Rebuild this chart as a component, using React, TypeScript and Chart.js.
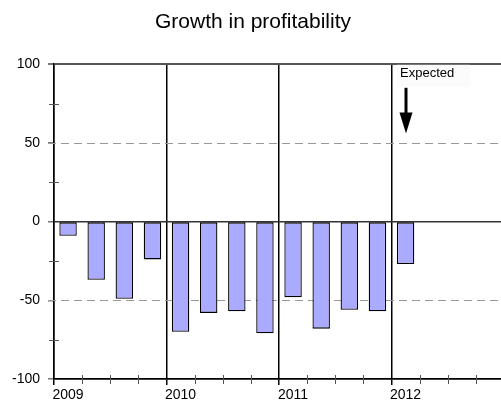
import React, { useEffect, useRef } from 'react';
import { Chart, registerables } from 'chart.js';

Chart.register(...registerables);

// ---- data ----
const quarterLabels = [
  '2009 Q1', '2009 Q2', '2009 Q3', '2009 Q4',
  '2010 Q1', '2010 Q2', '2010 Q3', '2010 Q4',
  '2011 Q1', '2011 Q2', '2011 Q3', '2011 Q4',
  '2012 Q1', '2012 Q2', '2012 Q3', '2012 Q4',
];
const growthValues = [-9, -37, -49, -24, -70, -58, -57, -71, -48, -68, -56, -57, -27];
const yMinorTicks = [75, 25, -25, -75];
const dashedLevels = [50, -50];
const titleText = 'Growth in profitability';
const annotationText = 'Expected';
const annotationQuarter = '2012 Q1';
const arrowFromValue = 85;
const arrowToValue = 56;
const annotationTextValue = 92;

const FONT = "'Liberation Sans', Arial, Helvetica, sans-serif";

const decorPlugin = {
  id: 'decor',
  beforeDatasetsDraw(chart: any) {
    const { ctx, chartArea, scales } = chart;
    const x = scales.x;
    const y = scales.y;
    ctx.save();
    // dashed reference lines
    ctx.strokeStyle = '#999999';
    ctx.lineWidth = 1;
    ctx.setLineDash([8, 5]);
    dashedLevels.forEach((v) => {
      const py = Math.round(y.getPixelForValue(v)) + 0.5;
      ctx.beginPath();
      ctx.moveTo(chartArea.left - 6, py);
      ctx.lineTo(chartArea.right, py);
      ctx.stroke();
    });
    ctx.setLineDash([]);
    // minor y ticks crossing the axis
    ctx.strokeStyle = '#555555';
    ctx.lineWidth = 1;
    yMinorTicks.forEach((v) => {
      const py = Math.round(y.getPixelForValue(v)) + 0.5;
      ctx.beginPath();
      ctx.moveTo(chartArea.left - 5, py);
      ctx.lineTo(chartArea.left + 5, py);
      ctx.stroke();
    });
    // quarter ticks crossing the x axis
    const step = x.getPixelForValue(1) - x.getPixelForValue(0);
    quarterLabels.forEach((_, i) => {
      if (i % 4 === 0) return;
      const px = Math.round(x.getPixelForValue(i) - step / 2) + 0.5;
      ctx.beginPath();
      ctx.moveTo(px, chartArea.bottom - 4);
      ctx.lineTo(px, chartArea.bottom + 5);
      ctx.stroke();
    });
    ctx.restore();
  },
  afterDraw(chart: any) {
    const { ctx, scales } = chart;
    const x = scales.x;
    const y = scales.y;
    const idx = quarterLabels.indexOf(annotationQuarter);
    const px = Math.round(x.getPixelForValue(idx));
    const yFrom = y.getPixelForValue(arrowFromValue);
    const yTo = y.getPixelForValue(arrowToValue);
    const yText = y.getPixelForValue(annotationTextValue);
    ctx.save();
    // faint label box
    ctx.fillStyle = '#fbfbfb';
    ctx.fillRect(px - 9, yText - 12, 73, 22);
    ctx.fillStyle = '#000';
    ctx.font = `13px ${FONT}`;
    ctx.textAlign = 'left';
    ctx.textBaseline = 'alphabetic';
    ctx.fillText(annotationText, px - 6, yText);
    // arrow
    const headLen = 21;
    ctx.strokeStyle = '#000';
    ctx.lineWidth = 3;
    ctx.beginPath();
    ctx.moveTo(px, yFrom);
    ctx.lineTo(px, yTo - headLen + 2);
    ctx.stroke();
    ctx.beginPath();
    ctx.moveTo(px - 6.5, yTo - headLen);
    ctx.lineTo(px + 6.5, yTo - headLen);
    ctx.lineTo(px, yTo);
    ctx.closePath();
    ctx.fill();
    ctx.restore();
  },
};

export default function App() {
  const ref = useRef<HTMLCanvasElement | null>(null);

  useEffect(() => {
    if (!ref.current) return;
    const chart = new Chart(ref.current, {
      type: 'bar',
      data: {
        labels: quarterLabels,
        datasets: [
          {
            label: 'Growth',
            data: growthValues,
            backgroundColor: '#aaaaff',
            borderColor: '#000000',
            borderWidth: 1.3,
            borderSkipped: false,
            barPercentage: 0.62,
            categoryPercentage: 1,
          },
        ],
      },
      options: {
        responsive: false,
        animation: false,
        events: [],
        layout: { padding: { left: 2, right: 0, top: 0, bottom: 0 } },
        plugins: {
          legend: { display: false },
          tooltip: { enabled: false },
          title: {
            display: true,
            text: titleText,
            color: '#000',
            font: { family: FONT, size: 21, weight: 'normal' },
            padding: { top: 10, bottom: 29 },
          },
        },
        scales: {
          x: {
            type: 'category',
            offset: true,
            afterFit: (s: any) => {
              s.height = 27;
            },
            grid: {
              offset: true,
              drawOnChartArea: true,
              drawTicks: true,
              tickLength: 6,
              lineWidth: 1.5,
              color: (c: any) => (c.index % 4 === 0 ? '#000000' : 'rgba(0,0,0,0)'),
              tickColor: (c: any) => (c.index % 4 === 0 ? '#000000' : 'rgba(0,0,0,0)'),
            },
            border: { display: true, color: '#000', width: 1.5 },
            ticks: {
              autoSkip: false,
              maxRotation: 0,
              minRotation: 0,
              padding: 2,
              color: '#000',
              font: { family: FONT, size: 14 },
              callback: (_v: any, i: number) => {
                const lab = quarterLabels[i];
                return lab && lab.endsWith('Q1') ? lab.slice(0, 4) : '';
              },
            },
          },
          y: {
            min: -100,
            max: 100,
            afterFit: (s: any) => {
              s.width = 52;
            },
            grid: {
              drawTicks: true,
              tickLength: 6,
              tickColor: '#777777',
              lineWidth: (c: any) => {
                const v = c.tick ? c.tick.value : null;
                return v === 100 ? 2 : 1.5;
              },
              color: (c: any) => {
                const v = c.tick ? c.tick.value : null;
                if (v === 100) return '#555555';
                if (v === 0) return '#333333';
                if (v === -100) return '#000000';
                return 'rgba(0,0,0,0)';
              },
            },
            border: { display: true, color: '#000', width: 1.5 },
            ticks: {
              stepSize: 50,
              padding: 8,
              color: '#000',
              font: { family: FONT, size: 14 },
            },
          },
        },
      },
      plugins: [decorPlugin],
    } as any);
    return () => chart.destroy();
  }, []);

  return (
    <div
      style={{
        position: 'fixed',
        left: 0,
        top: 0,
        width: 501,
        height: 406,
        overflow: 'hidden',
        background: '#fff',
      }}
    >
      <canvas ref={ref} width={504} height={406} style={{ display: 'block' }} />
    </div>
  );
}
